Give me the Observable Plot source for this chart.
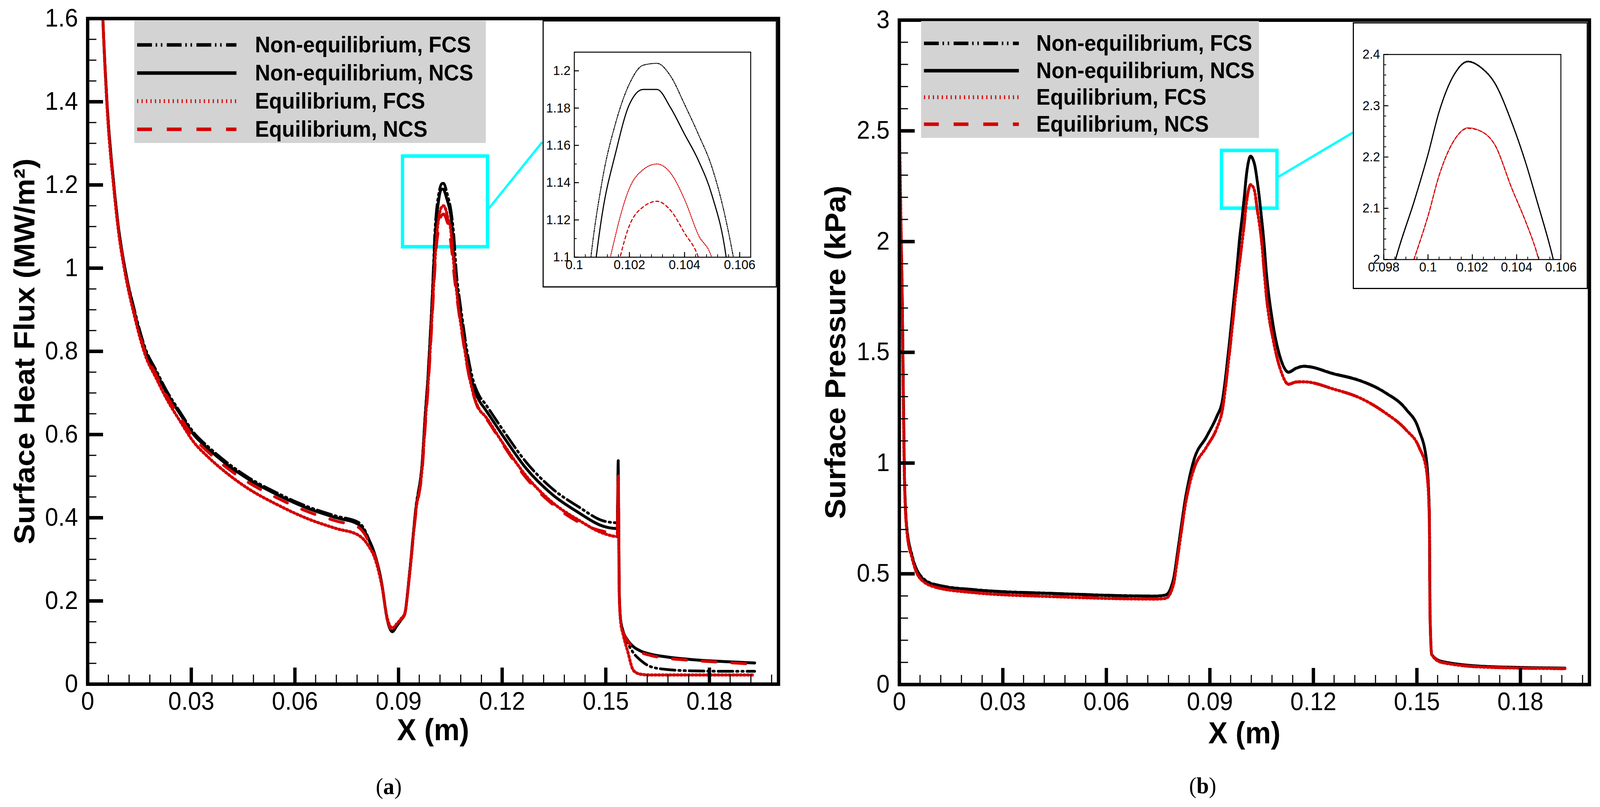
<!DOCTYPE html>
<html>
<head>
<meta charset="utf-8">
<script src="https://cdn.jsdelivr.net/npm/d3@7"></script>
<script src="https://cdn.jsdelivr.net/npm/@observablehq/plot@0.6"></script>
<style>
  html, body { margin: 0; background: #fff; overflow: hidden; }
  #page { position: relative; width: 4317px; height: 2066px; overflow: hidden; background: #fff; transform-origin: 0 0; }
  .panel { position: absolute; top: 0; }
  .inset { position: absolute; background: #fff; border: 3px solid #000; box-sizing: border-box; }
  .legend { position: absolute; }
  .caption { position: absolute; font-family: "Liberation Serif", "Times New Roman", serif; font-size: 60px; transform: translate(-50%, -50%); }
</style>
</head>
<body>
<div id="page">
  <div id="chartA" class="panel" style="left:0px"></div>
  <div id="chartB" class="panel" style="left:2150px"></div>
  <div id="insetA" class="inset" style="left:1464px; top:52px; width:632px; height:684px"></div>
  <div id="insetB" class="inset" style="left:3650px; top:57px; width:634px; height:683px"></div>
  <div class="caption" style="left:1049px; top:2013px">(<b>a</b>)</div>
  <div class="caption" style="left:3245px; top:2011px">(<b>b</b>)</div>
</div>
<script>
// (a) surface heat flux, MW/m2
const xA = [
  0.0030, 0.0044, 0.0056, 0.0076, 0.0089, 0.0108, 0.0134, 0.0168, 0.0198, 0.0229,
  0.0267, 0.0307, 0.0350, 0.0400, 0.0465, 0.0550, 0.0636, 0.0720, 0.0784, 0.0800,
  0.0815, 0.0829, 0.0852, 0.0867, 0.0882, 0.0895, 0.0908, 0.0918, 0.0931, 0.0950,
  0.0969, 0.0977, 0.0985, 0.0991, 0.0996, 0.1001, 0.1005, 0.1010, 0.1015, 0.1020,
  0.1025, 0.1030, 0.1035, 0.1040, 0.1045, 0.1050, 0.1055, 0.1060, 0.1068, 0.1076,
  0.1087, 0.1097, 0.1117, 0.1134, 0.1150, 0.1199, 0.1270, 0.1345, 0.1420, 0.1495,
  0.1533, 0.1536, 0.1539, 0.1543, 0.1550, 0.1563, 0.1580, 0.1600, 0.1630, 0.1680,
  0.1750, 0.1850, 0.1931
];
const heatNeFcs = [
  1.95, 1.60, 1.40, 1.20, 1.10, 1.00, 0.905, 0.805, 0.755, 0.705,
  0.655, 0.605, 0.570, 0.535, 0.497, 0.459, 0.427, 0.404, 0.389, 0.374,
  0.347, 0.318, 0.238, 0.155, 0.128, 0.142, 0.157, 0.170, 0.262, 0.425,
  0.540, 0.648, 0.740, 0.830, 0.910, 1.005, 1.085, 1.140, 1.172, 1.193,
  1.203, 1.204, 1.197, 1.182, 1.166, 1.148, 1.120, 1.080, 0.985, 0.930,
  0.865, 0.808, 0.728, 0.693, 0.675, 0.615, 0.533, 0.470, 0.427, 0.392,
  0.388, 0.520, 0.220, 0.155, 0.126, 0.100, 0.075, 0.058, 0.042, 0.035,
  0.032, 0.031, 0.031
];
const heatNeNcs = [
  1.95, 1.60, 1.40, 1.20, 1.10, 1.00, 0.90, 0.80, 0.75, 0.70,
  0.65, 0.60, 0.565, 0.530, 0.493, 0.455, 0.423, 0.400, 0.384, 0.370,
  0.345, 0.318, 0.240, 0.157, 0.126, 0.140, 0.155, 0.168, 0.259, 0.420,
  0.537, 0.643, 0.735, 0.823, 0.900, 0.990, 1.060, 1.122, 1.156, 1.182,
  1.190, 1.190, 1.180, 1.166, 1.152, 1.133, 1.101, 1.030, 0.960, 0.913,
  0.850, 0.793, 0.715, 0.681, 0.662, 0.601, 0.518, 0.456, 0.413, 0.379,
  0.374, 0.537, 0.220, 0.155, 0.128, 0.106, 0.090, 0.080, 0.072, 0.065,
  0.059, 0.054, 0.051
];
const heatEqFcs = [
  1.95, 1.60, 1.39, 1.19, 1.09, 0.99, 0.89, 0.788, 0.736, 0.685,
  0.633, 0.582, 0.545, 0.509, 0.470, 0.431, 0.398, 0.374, 0.358, 0.347,
  0.330, 0.308, 0.235, 0.160, 0.135, 0.145, 0.158, 0.170, 0.255, 0.415,
  0.525, 0.625, 0.715, 0.795, 0.870, 0.950, 1.010, 1.075, 1.112, 1.137,
  1.147, 1.150, 1.145, 1.131, 1.112, 1.099, 1.060, 1.010, 0.945, 0.890,
  0.830, 0.775, 0.697, 0.660, 0.645, 0.583, 0.500, 0.437, 0.395, 0.362,
  0.355, 0.500, 0.220, 0.150, 0.120, 0.080, 0.033, 0.024, 0.022, 0.022,
  0.022, 0.022, 0.022
];
const heatEqNcs = [
  1.95, 1.60, 1.395, 1.195, 1.095, 0.995, 0.895, 0.795, 0.744, 0.693,
  0.643, 0.593, 0.557, 0.522, 0.485, 0.447, 0.415, 0.392, 0.377, 0.363,
  0.340, 0.314, 0.238, 0.158, 0.130, 0.143, 0.156, 0.168, 0.257, 0.410,
  0.520, 0.615, 0.705, 0.785, 0.860, 0.935, 0.995, 1.055, 1.090, 1.117,
  1.127, 1.130, 1.125, 1.113, 1.100, 1.070, 1.035, 0.990, 0.935, 0.885,
  0.825, 0.772, 0.695, 0.657, 0.642, 0.580, 0.495, 0.433, 0.390, 0.367,
  0.362, 0.510, 0.220, 0.155, 0.127, 0.104, 0.088, 0.077, 0.069, 0.062,
  0.057, 0.052, 0.048
];

// (b) surface pressure, kPa
const xB = [
  0.0000, 0.0004, 0.0008, 0.0015, 0.0022, 0.0037, 0.0060, 0.0104, 0.0223, 0.0445,
  0.0742, 0.0772, 0.0794, 0.0809, 0.0831, 0.0853, 0.0890, 0.0920, 0.0935, 0.0957,
  0.0977, 0.0986, 0.0994, 0.1000, 0.1005, 0.1012, 0.1018, 0.1024, 0.1030, 0.1038,
  0.1044, 0.1049, 0.1056, 0.1064, 0.1083, 0.1105, 0.1128, 0.1150, 0.1172, 0.1261,
  0.1335, 0.1409, 0.1469, 0.1506, 0.1528, 0.1536, 0.1538, 0.1543, 0.1572, 0.1706,
  0.1929
];
const pressNeFcs = [
  2.47, 2.12, 1.81, 0.94, 0.71, 0.585, 0.495, 0.452, 0.428, 0.412,
  0.400, 0.405, 0.474, 0.627, 0.858, 1.011, 1.119, 1.211, 1.273, 1.550,
  1.856, 2.011, 2.118, 2.206, 2.289, 2.363, 2.387, 2.375, 2.346, 2.266,
  2.191, 2.118, 2.011, 1.856, 1.626, 1.472, 1.411, 1.429, 1.438, 1.403,
  1.373, 1.318, 1.243, 1.150, 1.011, 0.780, 0.320, 0.135, 0.104, 0.081,
  0.074
];
const pressNeNcs = [
  2.45, 2.10, 1.80, 0.93, 0.70, 0.580, 0.490, 0.450, 0.427, 0.411,
  0.399, 0.404, 0.473, 0.626, 0.857, 1.010, 1.118, 1.210, 1.272, 1.549,
  1.855, 2.010, 2.117, 2.205, 2.288, 2.362, 2.386, 2.374, 2.345, 2.265,
  2.190, 2.117, 2.010, 1.855, 1.625, 1.471, 1.410, 1.428, 1.437, 1.402,
  1.372, 1.317, 1.242, 1.149, 1.010, 0.780, 0.320, 0.135, 0.104, 0.081,
  0.074
];
const pressEqFcs = [
  2.52, 2.16, 1.76, 0.92, 0.69, 0.570, 0.480, 0.440, 0.414, 0.397,
  0.386, 0.389, 0.449, 0.600, 0.830, 0.970, 1.072, 1.157, 1.230, 1.500,
  1.790, 1.905, 2.005, 2.085, 2.164, 2.234, 2.257, 2.250, 2.225, 2.137,
  2.075, 2.015, 1.890, 1.750, 1.560, 1.420, 1.356, 1.366, 1.367, 1.333,
  1.294, 1.226, 1.149, 1.072, 0.965, 0.760, 0.320, 0.135, 0.100, 0.078,
  0.072
];
const pressEqNcs = [
  2.50, 2.15, 1.75, 0.92, 0.69, 0.570, 0.480, 0.440, 0.415, 0.398,
  0.387, 0.390, 0.450, 0.600, 0.830, 0.970, 1.072, 1.157, 1.230, 1.500,
  1.790, 1.905, 2.005, 2.085, 2.164, 2.234, 2.256, 2.250, 2.225, 2.137,
  2.075, 2.015, 1.890, 1.750, 1.560, 1.420, 1.356, 1.366, 1.367, 1.333,
  1.294, 1.226, 1.149, 1.072, 0.965, 0.760, 0.320, 0.135, 0.100, 0.078,
  0.072
];

const seriesNames = ["Non-equilibrium, FCS", "Non-equilibrium, NCS", "Equilibrium, FCS", "Equilibrium, NCS"];

const xTicks = [0, 0.03, 0.06, 0.09, 0.12, 0.15, 0.18];
const xTickLabels = ["0", "0.03", "0.06", "0.09", "0.12", "0.15", "0.18"];
const yTicksA = [0, 0.2, 0.4, 0.6, 0.8, 1, 1.2, 1.4, 1.6];
const yTickLabelsA = ["0", "0.2", "0.4", "0.6", "0.8", "1", "1.2", "1.4", "1.6"];
const yTicksB = [0, 0.5, 1, 1.5, 2, 2.5, 3];
const yTickLabelsB = ["0", "0.5", "1", "1.5", "2", "2.5", "3"];
const insetXTicksA = [0.1, 0.102, 0.104, 0.106];
const insetXLabelsA = ["0.1", "0.102", "0.104", "0.106"];
const insetYTicksA = [1.1, 1.12, 1.14, 1.16, 1.18, 1.2];
const insetYLabelsA = ["1.1", "1.12", "1.14", "1.16", "1.18", "1.2"];
const insetXTicksB = [0.098, 0.1, 0.102, 0.104, 0.106];
const insetXLabelsB = ["0.098", "0.1", "0.102", "0.104", "0.106"];
const insetYTicksB = [2, 2.1, 2.2, 2.3, 2.4];
const insetYLabelsB = ["2", "2.1", "2.2", "2.3", "2.4"];

// zoom window [x1, x2, y1, y2] and connector [x1, y1, x2, y2], in data units
const zoomBoxA = [0.0912, 0.1158, 1.051, 1.269];
const zoomLinkA = [0.1158, 1.140, 0.1316, 1.303];
const zoomBoxB = [0.0934, 0.1095, 2.150, 2.411];
const zoomLinkB = [0.1095, 2.289, 0.1314, 2.492];

const red = "#d40000";
const cyan = "#00ffff";
const font = "'Liberation Sans', Arial, Helvetica, sans-serif";

const mainStyle = [
  {stroke: "#000", strokeWidth: 7, strokeDasharray: "40,10,4,10,4,10"},
  {stroke: "#000", strokeWidth: 7.5},
  {stroke: red, strokeWidth: 8, strokeDasharray: "3,7"},
  {stroke: red, strokeWidth: 7.5, strokeDasharray: "38,42"}
];
const insetStyle = [
  {stroke: "#000", strokeWidth: 2.5, strokeDasharray: "6,3,2,3,2,3"},
  {stroke: "#000", strokeWidth: 3},
  {stroke: red, strokeWidth: 2.5, strokeDasharray: "2,3"},
  {stroke: red, strokeWidth: 3, strokeDasharray: "8,7"}
];
const legendStyle = [
  {stroke: "#000", width: 9, dash: "40,10,4,10,4,12"},
  {stroke: "#000", width: 9, dash: null},
  {stroke: red, width: 10, dash: "3,9"},
  {stroke: red, width: 9, dash: "40,40"}
];

// the layout is in reference pixels; stretch it onto whatever viewport we get
const fitX = window.innerWidth / 4317;
const fitY = window.innerHeight / 2066;
d3.select("#page").style("transform", `scale(${fitX}, ${fitY})`);

const fmt = (ticks, labels) => d => labels[ticks.indexOf(d)];

function lineMarks(xs, series, styles) {
  return series.map((ys, k) =>
    Plot.line(xs.map((x, i) => ({x, y: ys[i]})), {x: "x", y: "y", curve: "monotone-x", clip: true, ...styles[k]})
  );
}

// ticks point inward, so they are rules pinned to the bottom and left frame edges
function tickMarks(o) {
  const fw = o.width - o.marginLeft - o.marginRight;
  const fh = o.height - o.marginTop - o.marginBottom;
  return [
    Plot.ruleX(o.xMinor, {x: d => d, insetTop: fh - o.minorLen, strokeWidth: o.minorW}),
    Plot.ruleX(o.xMajor, {x: d => d, insetTop: fh - o.majorLen, strokeWidth: o.majorW}),
    Plot.ruleY(o.yMinor, {y: d => d, insetRight: fw - o.minorLen, strokeWidth: o.minorW}),
    Plot.ruleY(o.yMajor, {y: d => d, insetRight: fw - o.majorLen, strokeWidth: o.majorW})
  ];
}

function mainPlot(o) {
  return Plot.plot({
    width: o.width, height: 1960,
    marginLeft: o.marginLeft, marginRight: o.marginRight, marginTop: o.marginTop, marginBottom: 1960 - o.frameBottom,
    x: {domain: [0, 0.2], label: null},
    y: {domain: o.yDomain, label: null},
    style: {fontFamily: font, background: "transparent", overflow: "visible"},
    marks: [
      Plot.rect([o.box], {x1: d => d[0], x2: d => d[1], y1: d => d[2], y2: d => d[3], fill: "none", stroke: cyan, strokeWidth: 9}),
      Plot.link([o.link], {x1: d => d[0], y1: d => d[1], x2: d => d[2], y2: d => d[3], stroke: cyan, strokeWidth: 6}),
      ...lineMarks(o.xs, o.series, mainStyle),
      ...tickMarks({
        width: o.width, height: 1960, marginLeft: o.marginLeft, marginRight: o.marginRight,
        marginTop: o.marginTop, marginBottom: 1960 - o.frameBottom,
        xMinor: d3.range(0, 0.2, 0.006), xMajor: xTicks, yMinor: o.yMinor, yMajor: o.yTicks,
        minorLen: 24, minorW: 3, majorLen: 42, majorW: 9
      }),
      Plot.frame({strokeWidth: 9}),
      Plot.axisX({ticks: xTicks, tickSize: 0, tickPadding: 20, tickFormat: fmt(xTicks, xTickLabels), fontSize: 64, label: null}),
      Plot.axisY({ticks: o.yTicks, tickSize: 0, tickPadding: 26, tickFormat: fmt(o.yTicks, o.yLabels), fontSize: 64, label: null}),
      Plot.text([o.yTitle], {frameAnchor: "left", dx: o.yTitleDx, rotate: -90, text: d => d, textAnchor: "middle", fontSize: 78, fontWeight: "bold", lineAnchor: "middle"}),
      Plot.text(["X (m)"], {frameAnchor: "bottom", dy: o.xTitleDy, text: d => d, textAnchor: "middle", fontSize: 78, fontWeight: "bold", lineAnchor: "middle"})
    ]
  });
}

function insetPlot(o) {
  return Plot.plot({
    width: o.width, height: o.height,
    marginLeft: o.marginLeft, marginRight: o.marginRight, marginTop: o.marginTop, marginBottom: o.marginBottom,
    x: {domain: o.xDomain, label: null},
    y: {domain: o.yDomain, label: null},
    style: {fontFamily: font, background: "#fff", overflow: "visible"},
    marks: [
      ...lineMarks(o.xs, o.series, insetStyle),
      ...tickMarks({...o, minorLen: 7, minorW: 2, majorLen: 13, majorW: 2.5, xMajor: o.xTicks, yMajor: o.yTicks}),
      Plot.frame({strokeWidth: 2.5}),
      Plot.axisX({ticks: o.xTicks, tickSize: 0, tickPadding: 6, tickFormat: fmt(o.xTicks, o.xLabels), fontSize: 34, label: null}),
      Plot.axisY({ticks: o.yTicks, tickSize: 0, tickPadding: 10, tickFormat: fmt(o.yTicks, o.yLabels), fontSize: 34, label: null})
    ]
  });
}

function legend(o) {
  const svg = d3.select("#page").append("svg")
    .attr("class", "legend")
    .style("left", o.left + "px").style("top", o.top + "px")
    .attr("width", o.w).attr("height", o.h);
  svg.append("rect").attr("width", o.w).attr("height", o.h).attr("fill", "#d3d3d3");
  seriesNames.forEach((name, i) => {
    const s = legendStyle[i];
    svg.append("line")
      .attr("x1", o.x1).attr("x2", o.x2).attr("y1", o.rows[i]).attr("y2", o.rows[i])
      .attr("stroke", s.stroke).attr("stroke-width", s.width)
      .attr("stroke-dasharray", s.dash);
    svg.append("text")
      .attr("x", o.tx).attr("y", o.rows[i])
      .attr("dominant-baseline", "central")
      .attr("font-family", font).attr("font-weight", "bold").attr("font-size", 57)
      .text(name);
  });
}

const chartA = mainPlot({
  width: 2150, marginLeft: 236, marginRight: 50, marginTop: 47, frameBottom: 1751,
  yDomain: [0, 1.6], yTicks: yTicksA, yLabels: yTickLabelsA, yMinor: d3.range(0, 1.6, 0.05),
  xs: xA, series: [heatNeFcs, heatNeNcs, heatEqFcs, heatEqNcs],
  box: zoomBoxA, link: zoomLinkA,
  yTitle: "Surface Heat Flux (MW/m²)", yTitleDx: -169, xTitleDy: 119
});
d3.select("#chartA").append(() => chartA);

const chartB = mainPlot({
  width: 2167, marginLeft: 276, marginRight: 29, marginTop: 51, frameBottom: 1752,
  yDomain: [0, 3], yTicks: yTicksB, yLabels: yTickLabelsB, yMinor: d3.range(0, 3, 0.1),
  xs: xB, series: [pressNeFcs, pressNeNcs, pressEqFcs, pressEqNcs],
  box: zoomBoxB, link: zoomLinkB,
  yTitle: "Surface Pressure (kPa)", yTitleDx: -171, xTitleDy: 126
});
d3.select("#chartB").append(() => chartB);

const insetA = insetPlot({
  width: 626, height: 678, marginLeft: 82, marginRight: 68, marginTop: 78, marginBottom: 75,
  xDomain: [0.1, 0.1064], yDomain: [1.1, 1.21],
  xTicks: insetXTicksA, xLabels: insetXLabelsA, yTicks: insetYTicksA, yLabels: insetYLabelsA,
  xMinor: d3.range(0.1, 0.1064, 0.0004), yMinor: d3.range(1.1, 1.21, 0.01),
  xs: xA, series: [heatNeFcs, heatNeNcs, heatEqFcs, heatEqNcs]
});
d3.select("#insetA").append(() => insetA);

const insetB = insetPlot({
  width: 628, height: 677, marginLeft: 80, marginRight: 70, marginTop: 79, marginBottom: 73,
  xDomain: [0.098, 0.106], yDomain: [2, 2.4],
  xTicks: insetXTicksB, xLabels: insetXLabelsB, yTicks: insetYTicksB, yLabels: insetYLabelsB,
  xMinor: d3.range(0.098, 0.106, 0.0005), yMinor: d3.range(2, 2.4, 0.02),
  xs: xB, series: [pressNeFcs, pressNeNcs, pressEqFcs, pressEqNcs]
});
d3.select("#insetB").append(() => insetB);

legend({left: 362, top: 53, w: 949, h: 313, rows: [62, 134, 206, 278], x1: 8, x2: 276, tx: 326});
legend({left: 2485, top: 54, w: 912, h: 299, rows: [57, 127, 195, 264], x1: 8, x2: 264, tx: 311});
</script>
</body>
</html>
